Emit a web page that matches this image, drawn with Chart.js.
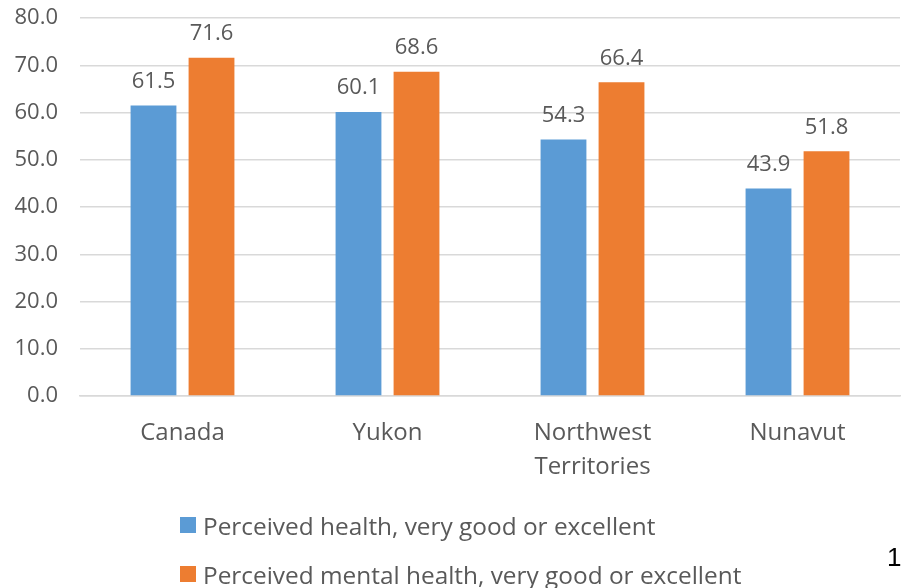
<!DOCTYPE html>
<html>
<head>
<meta charset="utf-8">
<script src="https://cdn.jsdelivr.net/npm/chart.js@4"></script>
<style>
  html, body { margin: 0; padding: 0; background: #fff; }
  #wrap { position: relative; width: 901px; height: 588px; overflow: hidden; }
  #chart { position: absolute; left: 0; top: 0; }
  #legend { position: absolute; left: 180px; top: 509px; font-family: 'Open Sans', sans-serif; font-size: 24.4px; color: #595959; }
  .item { display: flex; align-items: center; height: 32px; margin-bottom: 17px; white-space: nowrap; }
  .sw { width: 16px; height: 16px; margin-right: 7px; flex: none; }
  #pageNo { position: absolute; left: 887px; top: 542px; font-family: 'Liberation Sans', Arial, sans-serif; font-size: 26px; color: #000; }
</style>
</head>
<body>
<div id="wrap">
  <canvas id="chart" width="901" height="588"></canvas>
  <div id="legend"></div>
  <div id="pageNo">1</div>
</div>
<script>
// ข้อมูล
const regions = ['Canada', 'Yukon', ['Northwest', 'Territories'], 'Nunavut'];
const seriesNames = ['Perceived health, very good or excellent', 'Perceived mental health, very good or excellent'];
const perceivedHealth = [61.5, 60.1, 54.3, 43.9];
const mentalHealth = [71.6, 68.6, 66.4, 51.8];
const yTicks = [0, 10, 20, 30, 40, 50, 60, 70, 80];
const colors = ['#5B9BD5', '#ED7D31'];

const textColor = '#595959';
const fontFamily = "'Open Sans', sans-serif";

// วาดตัวเลขเหนือแท่ง
const barLabels = {
  id: 'barLabels',
  afterDatasetsDraw(chart) {
    const ctx = chart.ctx;
    ctx.save();
    ctx.font = `22px ${fontFamily}`;
    ctx.fillStyle = textColor;
    ctx.textAlign = 'center';
    ctx.textBaseline = 'middle';
    chart.data.datasets.forEach((ds, di) => {
      chart.getDatasetMeta(di).data.forEach((bar, i) => {
        ctx.fillText(ds.data[i].toFixed(1), bar.x, bar.y - 24);
      });
    });
    ctx.restore();
  }
};

const chart = new Chart(document.getElementById('chart'), {
  type: 'bar',
  data: {
    labels: regions,
    datasets: [
      { label: seriesNames[0], data: perceivedHealth, backgroundColor: colors[0] },
      { label: seriesNames[1], data: mentalHealth, backgroundColor: colors[1] }
    ]
  },
  options: {
    responsive: false,
    animation: false,
    layout: { padding: { top: 18, right: 1, left: 0, bottom: 0 } },
    datasets: { bar: { categoryPercentage: 0.566, barPercentage: 0.79 } },
    scales: {
      y: {
        min: 0, max: 80,
        afterBuildTicks: axis => { axis.ticks = yTicks.map(v => ({ value: v })); },
        afterFit: axis => { axis.width = 80; axis.paddingTop = 0; axis.paddingBottom = 0; },
        border: { display: false },
        grid: { color: '#d9d9d9', lineWidth: 1.5, drawTicks: false },
        ticks: { padding: 22, color: textColor, font: { family: fontFamily, size: 22 }, callback: v => Number(v).toFixed(1) }
      },
      x: {
        afterFit: axis => { axis.height = 588 - 396; },
        border: { color: '#d9d9d9', width: 1.5 },
        grid: { display: false, drawTicks: false },
        ticks: { padding: 20, color: textColor, font: { family: fontFamily, size: 24, lineHeight: 1.42 } }
      }
    },
    plugins: { legend: { display: false }, tooltip: { enabled: false } }
  },
  plugins: [barLabels]
});

// legend แบบแนวตั้ง
const lg = document.getElementById('legend');
chart.data.datasets.forEach(ds => {
  const it = document.createElement('div');
  it.className = 'item';
  it.innerHTML = `<span class="sw" style="background:${ds.backgroundColor}"></span><span>${ds.label}</span>`;
  lg.appendChild(it);
});
</script>
</body>
</html>
